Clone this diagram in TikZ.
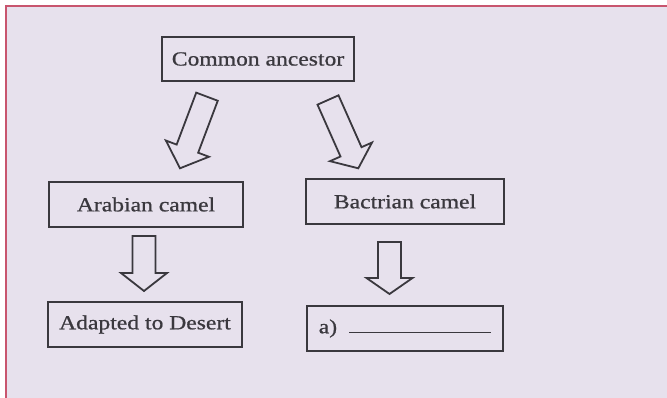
\documentclass[tikz,border=0pt]{standalone}
\usepackage{fontspec}
\setmainfont{Liberation Serif}[FakeStretch=1.18, FakeBold=0.8]
\usetikzlibrary{calc}
\definecolor{paper}{RGB}{231,225,237}
\definecolor{ink}{RGB}{58,56,62}
\definecolor{framecol}{RGB}{200,85,110}
% #1 start coordinate, #2 tip coordinate, #3 head length
\newcommand\blockarrow[3]{%
  \coordinate (ba-b) at ($(#2)!#3!(#1)$);
  \draw[blk] ($(#1)!11.5pt!90:(#2)$) -- ($(ba-b)!11.5pt!90:(#2)$)
    -- ($(ba-b)!23pt!90:(#2)$) -- (#2) -- ($(ba-b)!23pt!-90:(#2)$)
    -- ($(ba-b)!11.5pt!-90:(#2)$) -- ($(#1)!11.5pt!-90:(#2)$) -- cycle;}
\begin{document}
\begin{tikzpicture}[x=1pt,y=-1pt,
  boxnode/.style={draw=ink, line width=2pt, inner sep=0pt, align=center,
    text=ink, font=\fontsize{20}{24}\selectfont},
  blk/.style={draw=ink, line width=1.8pt, line join=miter}]
\useasboundingbox (0,0) rectangle (667,398);
\fill[white] (0,0) rectangle (667,398);
\fill[paper] (6,6) rectangle (667,398);
\draw[framecol, line width=1.5pt] (6,398) -- (6,6) -- (667,6);

\node[boxnode, minimum width=192pt, minimum height=44pt] (anc) at (258,59) {Common ancestor};
\node[boxnode, minimum width=194pt, minimum height=45pt] (arab) at (146,204.5) {Arabian camel};
\node[boxnode, minimum width=198pt, minimum height=45pt] (bact) at (405,201.5) {Bactrian camel};
\node[boxnode, minimum width=194pt, minimum height=45pt] (adapt) at (145,324.5) {Adapted to Desert};
\node[boxnode, minimum width=196pt, minimum height=45pt] (ans) at (405,328.5) {a)\hspace{12pt}\textcolor{ink}{\rule{142pt}{1.2pt}}};

\coordinate (l1s) at (207,96.7);
\coordinate (l1t) at (180,168.3);
\coordinate (r1s) at (328,100);
\coordinate (r1t) at (358.3,168.3);
\coordinate (l2s) at (144,236);
\coordinate (l2t) at (144,291);
\coordinate (r2s) at (389.5,242);
\coordinate (r2t) at (389.5,294);

\blockarrow{l1s}{l1t}{21pt}
\blockarrow{r1s}{r1t}{18pt}
\blockarrow{l2s}{l2t}{18pt}
\blockarrow{r2s}{r2t}{16pt}
\end{tikzpicture}
\end{document}
